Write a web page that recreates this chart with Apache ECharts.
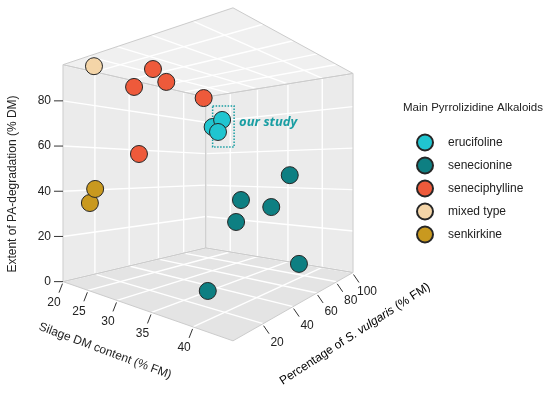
<!DOCTYPE html>
<html>
<head>
<meta charset="utf-8">
<script src="https://cdn.jsdelivr.net/npm/echarts@6/dist/echarts.min.js"></script>
<style>html,body{margin:0;padding:0;background:#fff}#c{width:550px;height:396px}</style>
</head>
<body>
<div id="c"></div>
<script>
// ---- data (Silage DM content %FM, Percentage of S. vulgaris %FM, Extent of PA-degradation %DM)
const groups = ['erucifoline', 'senecionine', 'seneciphylline', 'mixed type', 'senkirkine'];
const erucifoline = [[32.8, 53.9, 72.5], [31.0, 55.5, 69.9], [33.3, 48.5, 66.4]];
const senecionine = [[36.2, 93.4, 46.8], [31.2, 77.4, 33.9], [35.8, 77.7, 31.3], [30.7, 75.8, 22.5], [39.8, 76.3, 6.1], [35.9, 29.7, 1.9]];
const seneciphylline = [[28.6, 26.6, 93.1], [28.3, 35.5, 89.3], [26.0, 24.5, 86.4], [32.0, 44.6, 81.6], [25.2, 29.8, 56.8]];
const mixedType = [[23.0, 11.9, 95.0]];
const senkirkine = [[23.7, 10.7, 41.2], [23.2, 9.4, 35.1]];
const dmTicks = [20, 25, 30, 35, 40];
const pTicks = [20, 40, 60, 80, 100];
const zTicks = [0, 20, 40, 60, 80];
const DM_MIN = 20, DM_MAX = 44, P_MIN = 4, P_MAX = 100, Z_MIN = 0, Z_MAX = 96;

const colors = ['#20c5d0', '#0e7f82', '#ee5a3b', '#f4d5a8', '#c9991f'];
const FONT = "'Liberation Sans', Arial, sans-serif";

// ---- perspective camera (no pitch)
function proj(dm, p, z) {
  const a = (dm - DM_MIN) / (DM_MAX - DM_MIN);
  const b = (p - P_MIN) / (P_MAX - P_MIN);
  const c = (z - Z_MIN) / (Z_MAX - Z_MIN);
  const s = 1 - a;
  const D = 1 + 0.535 * s + 0.673 * b;
  const x = 200 + (33 - 243.3 * s + 223 * b) / D;
  const y = 171 - 333 * (c - 0.51) / D;
  return [x, y, D];
}

const seriesData = [erucifoline, senecionine, seneciphylline, mixedType, senkirkine];

const chart = echarts.init(document.getElementById('c'), null, {renderer: 'canvas'});

function boxRender(params, api) {
  const ch = [];
  const C = (pt) => api.coord([pt[0], pt[1]]);
  function poly(pts, fill) {
    ch.push({type: 'polygon', shape: {points: pts.map(C)}, style: {fill: fill}});
  }
  function seg(p1, p2, color, w) {
    const A = C(p1), B = C(p2);
    ch.push({type: 'line', shape: {x1: A[0], y1: A[1], x2: B[0], y2: B[1]}, style: {stroke: color, lineWidth: w}});
  }
  function txt(pt, t, align, vAlign) {
    const A = C(pt);
    ch.push({type: 'text', x: A[0], y: A[1], style: {text: t, fill: '#222', font: '12px ' + FONT, align: align, verticalAlign: vAlign}});
  }
  const floor = [proj(DM_MIN, P_MIN, Z_MIN), proj(DM_MAX, P_MIN, Z_MIN), proj(DM_MAX, P_MAX, Z_MIN), proj(DM_MIN, P_MAX, Z_MIN)];
  const ceil = [proj(DM_MIN, P_MIN, Z_MAX), proj(DM_MAX, P_MIN, Z_MAX), proj(DM_MAX, P_MAX, Z_MAX), proj(DM_MIN, P_MAX, Z_MAX)];
  const leftW = [proj(DM_MIN, P_MIN, Z_MIN), proj(DM_MIN, P_MAX, Z_MIN), proj(DM_MIN, P_MAX, Z_MAX), proj(DM_MIN, P_MIN, Z_MAX)];
  const rightW = [proj(DM_MIN, P_MAX, Z_MIN), proj(DM_MAX, P_MAX, Z_MIN), proj(DM_MAX, P_MAX, Z_MAX), proj(DM_MIN, P_MAX, Z_MAX)];
  poly(floor, '#e4e4e4');
  poly(ceil, '#f0f0f0');
  poly(leftW, '#ebebeb');
  poly(rightW, '#ebebeb');
  const W = '#ffffff', GW = 1.4;
  // floor & ceiling grids
  [Z_MIN, Z_MAX].forEach(z => {
    dmTicks.forEach(d => seg(proj(d, P_MIN, z), proj(d, P_MAX, z), W, GW));
    pTicks.forEach(p => seg(proj(DM_MIN, p, z), proj(DM_MAX, p, z), W, GW));
  });
  // left wall grid
  pTicks.forEach(p => seg(proj(DM_MIN, p, Z_MIN), proj(DM_MIN, p, Z_MAX), W, GW));
  zTicks.forEach(z => seg(proj(DM_MIN, P_MIN, z), proj(DM_MIN, P_MAX, z), W, GW));
  // right wall grid
  dmTicks.forEach(d => seg(proj(d, P_MAX, Z_MIN), proj(d, P_MAX, Z_MAX), W, GW));
  zTicks.forEach(z => seg(proj(DM_MIN, P_MAX, z), proj(DM_MAX, P_MAX, z), W, GW));
  // pane borders
  [floor, ceil, leftW, rightW].forEach(pl => {
    for (let i = 0; i < 4; i++) seg(pl[i], pl[(i + 1) % 4], '#cccccc', 1);
  });
  // z axis ticks & labels
  zTicks.forEach(z => {
    const e = proj(DM_MIN, P_MIN, z);
    seg([e[0] - 9, e[1]], [e[0], e[1]], '#333', 1);
    txt([e[0] - 12, e[1]], String(z), 'right', 'middle');
  });
  // DM ticks
  dmTicks.forEach(d => {
    const e = proj(d, P_MIN, Z_MIN);
    seg([e[0] - 0.5, e[1] + 2], [e[0] - 4, e[1] + 11], '#333', 1);
    txt([e[0] - 9, e[1] + 21], String(d), 'center', 'middle');
  });
  // P ticks
  pTicks.forEach(p => {
    const e = proj(DM_MAX, p, Z_MIN);
    seg([e[0] + 0.5, e[1] + 2], [e[0] + 6, e[1] + 10], '#333', 1);
    txt([e[0] + 14, e[1] + 19], String(p), 'center', 'middle');
  });
  // "our study" box around the erucifoline points
  const pts = erucifoline.map(v => proj(v[0], v[1], v[2]));
  const xs = pts.map(q => q[0]), ys = pts.map(q => q[1]);
  const r0 = C([Math.min(...xs), Math.min(...ys) - 14]);
  const r1 = C([Math.max(...xs) + 12, Math.max(...ys) + 15]);
  ch.push({type: 'rect', shape: {x: r0[0], y: r0[1], width: r1[0] - r0[0], height: r1[1] - r0[1]},
    style: {fill: 'none', stroke: '#1a9ea3', lineWidth: 1.5, lineDash: [1.5, 1.5]}});
  ch.push({type: 'text', x: r1[0] + 5, y: (r0[1] + r1[1]) / 2 - 4,
    style: {text: 'our study', fill: '#1a9ea3', font: 'italic bold 13px "Open Sans", sans-serif', align: 'left', verticalAlign: 'middle'}});
  return {type: 'group', children: ch};
}

const series = [{
  type: 'custom', name: 'box', silent: true, z: 1,
  coordinateSystem: 'cartesian2d',
  data: [[0, 0]],
  renderItem: boxRender
}];
groups.forEach((g, i) => {
  const d = seriesData[i].map(v => {
    const q = proj(v[0], v[1], v[2]);
    return [q[0], q[1], q[2], v[0], v[1], v[2]];
  }).sort((m, n) => n[2] - m[2]);
  series.push({
    type: 'scatter', name: g, z: 5, data: d, symbol: 'circle', symbolSize: 17,
    encode: {x: 0, y: 1},
    itemStyle: {color: colors[i], borderColor: '#262626', borderWidth: 1, opacity: 1},
    emphasis: {disabled: true}
  });
});

chart.setOption({
  animation: false,
  backgroundColor: '#ffffff',
  grid: {left: 0, right: 0, top: 0, bottom: 0},
  xAxis: {type: 'value', min: 0, max: 550, show: false},
  yAxis: {type: 'value', min: 0, max: 396, inverse: true, show: false},
  legend: {
    data: groups, orient: 'vertical', left: 416, top: 133.5, padding: 0,
    itemWidth: 16, itemHeight: 16, itemGap: 5, icon: 'circle',
    textStyle: {fontSize: 12, color: '#222', fontFamily: FONT, padding: [0, 0, 0, 10], lineHeight: 16},
    selectedMode: false
  },
  graphic: [
    {type: 'text', x: 473, y: 108, style: {text: 'Main Pyrrolizidine Alkaloids', font: '11.5px ' + FONT, fill: '#222', align: 'center', verticalAlign: 'middle'}},
    {type: 'text', x: 13, y: 184, rotation: Math.PI / 2, style: {text: 'Extent of PA-degradation (% DM)', font: '12px ' + FONT, fill: '#222', align: 'center', verticalAlign: 'middle'}},
    {type: 'text', x: 105, y: 351, rotation: -20.5 * Math.PI / 180, style: {text: 'Silage DM content (% FM)', font: '12px ' + FONT, fill: '#222', align: 'center', verticalAlign: 'middle'}},
    {type: 'text', x: 355, y: 334, rotation: 33 * Math.PI / 180, style: {
      text: '{n|Percentage of }{i|S. vulgaris}{n| (% FM)}', align: 'center', verticalAlign: 'middle',
      rich: {n: {fontSize: 12, fontFamily: FONT, color: '#222'}, i: {fontSize: 12, fontFamily: FONT, color: '#222', fontStyle: 'italic'}}
    }}
  ],
  series: series
});
</script>
</body>
</html>
